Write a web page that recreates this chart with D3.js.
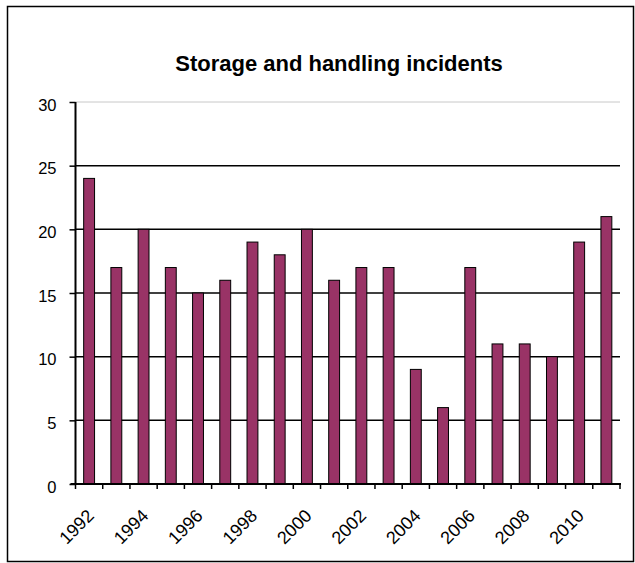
<!DOCTYPE html>
<html>
<head>
<meta charset="utf-8">
<script src="https://cdn.jsdelivr.net/npm/d3@7"></script>
<style>
  body { margin: 0; background: #fff; }
  text { font-family: "Liberation Sans", Arial, sans-serif; fill: #000; }
</style>
</head>
<body>
<div id="chart"></div>
<script>
// chart data
let years = ["1992", "1993", "1994", "1995", "1996", "1997", "1998", "1999", "2000", "2001",
  "2002", "2003", "2004", "2005", "2006", "2007", "2008", "2009", "2010", "2011"];
let incidents = [24, 17, 20, 17, 15, 16, 19, 18, 20, 16, 17, 17, 9, 6, 17, 11, 11, 10, 19, 21];
let yTicks = [0, 5, 10, 15, 20, 25, 30];
let title = "Storage and handling incidents";

// svg size
let svgWidth = 635;
let svgHeight = 563;

// plot area margins
let margin = { top: 102, right: 15, bottom: 79, left: 75.5 };
let width = 620 - margin.left;
let height = 484 - margin.top;

let svg = d3.select("#chart")
  .append("svg")
  .attr("width", svgWidth)
  .attr("height", svgHeight);

// outer frame
svg.append("rect")
  .attr("x", 7.5)
  .attr("y", 6.5)
  .attr("width", 626)
  .attr("height", 555)
  .attr("fill", "none")
  .attr("stroke", "#000")
  .attr("stroke-width", 1.5);

// title
svg.append("text")
  .attr("x", 339)
  .attr("y", 71)
  .attr("text-anchor", "middle")
  .attr("font-size", 22)
  .attr("font-weight", "bold")
  .text(title);

let chart = svg.append("g")
  .attr("transform", `translate(${margin.left}, ${margin.top})`);

// scales
let x = d3.scaleBand()
  .domain(years)
  .range([0, width])
  .paddingInner(0.6)
  .paddingOuter(0.3);

let y = d3.scaleLinear()
  .domain([0, 30])
  .range([height, 0]);

// gridlines
chart.selectAll(".grid")
  .data(yTicks.filter(d => d > 0))
  .enter()
  .append("line")
  .attr("x1", 0)
  .attr("x2", width)
  .attr("y1", d => y(d))
  .attr("y2", d => y(d))
  .attr("stroke", d => d === 30 ? "#c8c8c8" : "#000")
  .attr("stroke-width", d => d === 30 ? 1 : 1.5);

// bars
chart.selectAll(".bar")
  .data(incidents)
  .enter()
  .append("rect")
  .attr("x", (d, i) => x(years[i]))
  .attr("y", d => y(d))
  .attr("width", x.bandwidth())
  .attr("height", d => height - y(d))
  .attr("fill", "#993366")
  .attr("stroke", "#000")
  .attr("stroke-width", 1);

// y axis
let leftAxis = d3.axisLeft(y)
  .tickValues(yTicks)
  .tickSize(6)
  .tickPadding(13);

let yAxisG = chart.append("g").call(leftAxis);
yAxisG.select(".domain").attr("stroke-width", 2).attr("d", `M0,${height}V0`);
yAxisG.selectAll(".tick line").attr("stroke-width", 1.5);
yAxisG.selectAll("text")
  .attr("font-size", 16.5)
  .attr("dy", "0.5em")
  .attr("font-family", "Liberation Sans, Arial, sans-serif");

// x axis line and ticks between categories
let xAxisG = chart.append("g")
  .attr("transform", `translate(0, ${height})`);

xAxisG.append("line")
  .attr("x1", -5)
  .attr("x2", width + 1)
  .attr("stroke", "#000")
  .attr("stroke-width", 2);

xAxisG.selectAll(".xtick")
  .data(d3.range(years.length + 1))
  .enter()
  .append("line")
  .attr("x1", i => i * x.step())
  .attr("x2", i => i * x.step())
  .attr("y1", 0)
  .attr("y2", 5)
  .attr("stroke", "#000")
  .attr("stroke-width", 1.5);

// year labels, every other one
xAxisG.selectAll(".xlabel")
  .data(years.filter((d, i) => i % 2 === 0))
  .enter()
  .append("text")
  .attr("transform", d => `translate(${x(d) + x.bandwidth() / 2 - 3}, 24) rotate(-45)`)
  .attr("text-anchor", "end")
  .attr("dy", "0.7em")
  .attr("font-size", 18)
  .text(d => d);
</script>
</body>
</html>
